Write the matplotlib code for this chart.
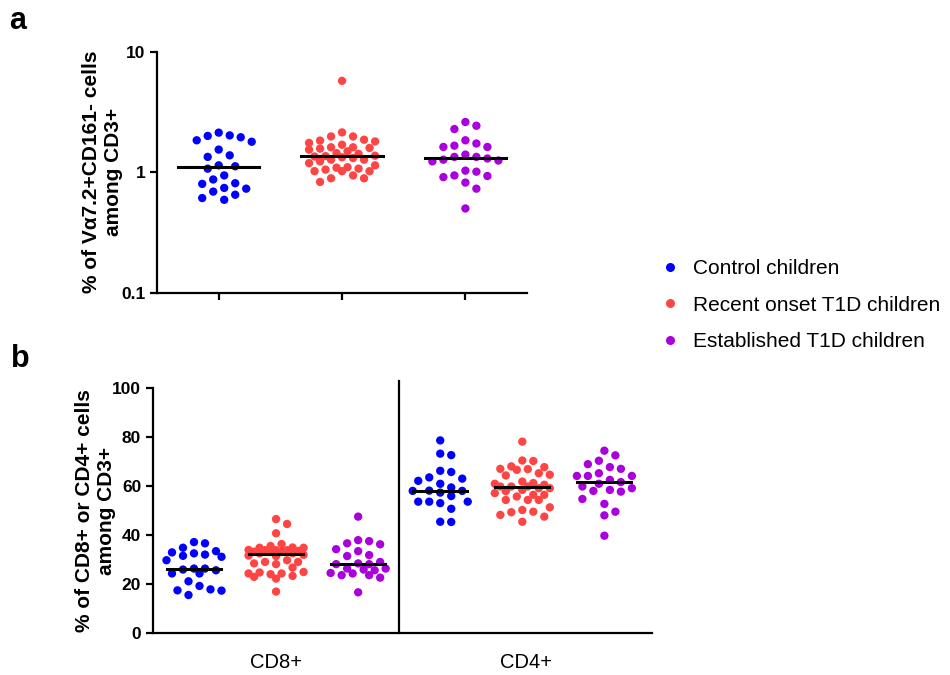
import numpy as np
import matplotlib.pyplot as plt
from matplotlib.lines import Line2D

plt.rcParams['font.family'] = ['Liberation Sans', 'DejaVu Sans']

# groups / colours
groups = ['Control children', 'Recent onset T1D children', 'Established T1D children']
colors = ['#0000FF', '#FF4444', '#AA00DD']

# panel a: % Va7.2+CD161- among CD3+ (log scale)
va72_control = [2.02, 1.95, 1.79, 1.84, 2.00, 2.13, 1.38, 1.34, 1.54, 1.12, 1.07,
                1.14, 0.94, 0.87, 0.81, 0.74, 0.73, 0.80, 0.65, 0.69, 0.59, 0.61]
va72_recent = [5.73, 2.14, 1.98, 1.83, 1.75, 1.69, 1.80, 1.86, 1.98, 1.61,
               1.59, 1.57, 1.61, 1.54, 1.49, 1.42, 1.37, 1.35, 1.44, 1.33,
               1.36, 1.31, 1.27, 1.27, 1.19, 1.10, 1.07, 1.05, 1.09, 1.14,
               1.23, 1.02, 1.02, 1.02, 0.89, 0.83, 0.89, 0.94]
va72_established = [2.43, 2.28, 2.61, 1.84, 1.66, 1.62, 1.62, 1.73, 1.34, 1.30, 1.25, 1.23,
                    1.27, 1.34, 1.40, 1.03, 0.94, 0.91, 0.93, 1.01, 0.82, 0.73, 0.50]

# panel b: % CD8+ / CD4+ among CD3+
cd8_control = [36.8, 37.3, 35.0, 33.6, 32.7, 31.7, 31.3, 32.2, 33.1, 29.9, 25.8,
               26.5, 24.5, 26.1, 26.5, 24.5, 21.3, 19.4, 17.6, 15.7, 17.5, 18.0]
cd8_recent = [46.7, 44.7, 40.9, 35.0, 36.5, 35.7, 35.1, 34.0, 33.3, 33.7, 34.0, 32.7,
              34.0, 35.0, 33.3, 33.4, 34.1, 32.8, 32.1, 31.8, 31.6, 29.9, 29.2, 28.3,
              28.6, 29.2, 26.9, 24.2, 25.1, 24.5, 24.9, 23.5, 24.5, 23.1, 22.4, 17.1]
cd8_established = [47.7, 38.1, 37.7, 36.8, 36.4, 34.4, 33.6, 32.0, 31.6, 28.6, 28.3, 28.3,
                   29.2, 26.5, 25.8, 26.1, 26.5, 24.5, 23.8, 22.8, 23.8, 24.7, 16.8]
cd4_control = [78.8, 73.4, 72.8, 65.9, 66.4, 63.2, 63.7, 62.3, 61.1, 59.6, 58.3,
               58.2, 56.1, 57.5, 58.2, 53.8, 53.8, 53.2, 53.8, 50.9, 45.5, 45.6]
cd4_recent = [78.3, 70.6, 70.4, 68.2, 67.2, 66.8, 67.1, 67.9, 65.4, 64.5, 64.8, 62.0,
              58.6, 60.0, 60.7, 61.1, 59.3, 60.0, 54.5, 56.6, 55.9, 56.6, 57.3, 54.5,
              54.5, 49.7, 51.5, 48.4, 50.4, 47.7, 49.5, 45.6, 61.4, 60.0, 58.1, 59.3]
cd4_established = [74.6, 72.7, 70.5, 69.1, 67.9, 67.2, 64.3, 64.3, 65.4, 64.3, 62.7, 61.1,
                   60.0, 61.8, 57.9, 59.3, 58.2, 54.9, 52.9, 58.6, 49.7, 48.2, 39.9]

subset_labels = ['CD8+', 'CD4+']


def swarm_x(ax, center, values, gap_px=11.0, max_px=36.0):
    # beeswarm layout in pixel space: each point takes the nearest free slot
    values = np.asarray(values, dtype=float)
    pts = ax.transData.transform(np.column_stack([np.full(len(values), center), values]))
    ypix = pts[:, 1]
    cx = pts[0, 0]
    order = np.argsort(-ypix)
    placed = []
    offs = np.zeros(len(values))
    cands = [0.0]
    for k in range(1, 14):
        cands += [k * gap_px / 2, -k * gap_px / 2]
    cands = [c for c in cands if abs(c) <= max_px]
    for i in order:
        best = None
        for c in cands:
            if all((c - px) ** 2 + (ypix[i] - py) ** 2 >= gap_px ** 2 for px, py in placed):
                best = c
                break
        if best is None:
            # no free slot: take the one with the most room
            best = max(cands, key=lambda c: min([(c - px) ** 2 + (ypix[i] - py) ** 2
                                                 for px, py in placed] + [1e9]))
        offs[i] = best
        placed.append((best, ypix[i]))
    back = ax.transData.inverted().transform(np.column_stack([cx + offs, ypix]))
    return back[:, 0]


def style_axis(ax):
    for s in ['top', 'right']:
        ax.spines[s].set_visible(False)
    for s in ['left', 'bottom']:
        ax.spines[s].set_linewidth(1.6)
    ax.tick_params(width=1.6, length=5, labelsize=12.5)
    for lab in ax.get_yticklabels():
        lab.set_fontweight('bold')


fig = plt.figure(figsize=(9.5, 6.75), dpi=100)

# ---- panel a
ax1 = fig.add_axes([0.1653, 0.5664, 0.3895, 0.357])
ax1.set_yscale('log')
ax1.set_ylim(0.1, 10)
ax1.set_xlim(-0.5, 2.5)
ax1.set_yticks([0.1, 1, 10])
ax1.set_yticklabels(['0.1', '1', '10'])
ax1.minorticks_off()
ax1.set_xticks([0, 1, 2])
ax1.set_xticklabels([])
style_axis(ax1)

for i, vals in enumerate([va72_control, va72_recent, va72_established]):
    xs = swarm_x(ax1, i, vals)
    ax1.scatter(xs, vals, s=36, color=colors[i], edgecolors='none', zorder=3)
    med = np.median(vals)
    ax1.plot([i - 0.33, i + 0.33], [med, med], color='black', lw=2.2, zorder=4)

ax1.set_ylabel('% of V\u03b17.2+CD161- cells\namong CD3+', fontsize=15, fontweight='bold')
ax1.yaxis.set_label_coords(-0.092, 0.5)

# ---- panel b
ax2 = fig.add_axes([0.161, 0.0615, 0.5253, 0.363])
ax2.set_ylim(0, 100)
ax2.set_xlim(-0.5, 5.58)
ax2.set_yticks([0, 20, 40, 60, 80, 100])
ax2.set_xticks([1, 4.05])
ax2.set_xticklabels(subset_labels)
style_axis(ax2)
ax2.tick_params(axis='x', length=0, pad=14, labelsize=14.5)

panel_b = [[cd8_control, cd8_recent, cd8_established],
           [cd4_control, cd4_recent, cd4_established]]
for j, sets in enumerate(panel_b):
    for i, vals in enumerate(sets):
        pos = j * 3 + i
        xs = swarm_x(ax2, pos, vals, max_px=31.0)
        ax2.scatter(xs, vals, s=36, color=colors[i], edgecolors='none', zorder=3)
        med = np.median(vals)
        ax2.plot([pos - 0.33, pos + 0.33], [med, med], color='black', lw=2.2, zorder=4)

ax2.axvline(2.5, ymin=0, ymax=1.03, color='black', lw=1.6, clip_on=False)

ax2.set_ylabel('% of CD8+ or CD4+ cells\namong CD3+', fontsize=15, fontweight='bold')
ax2.yaxis.set_label_coords(-0.075, 0.5)

# legend
handles = [Line2D([], [], marker='o', linestyle='none', markersize=6.5,
                  markerfacecolor=c, markeredgecolor='none') for c in colors]
fig.legend(handles, groups, loc='center left', bbox_to_anchor=(0.683, 0.548),
           frameon=False, fontsize=15, handletextpad=0.6, labelspacing=0.85,
           handlelength=1.0, borderpad=0)

# panel letters
fig.text(0.010, 0.957, 'a', fontsize=22, fontweight='bold')
fig.text(0.012, 0.456, 'b', fontsize=22, fontweight='bold')

fig.savefig('out.png', dpi=100)
